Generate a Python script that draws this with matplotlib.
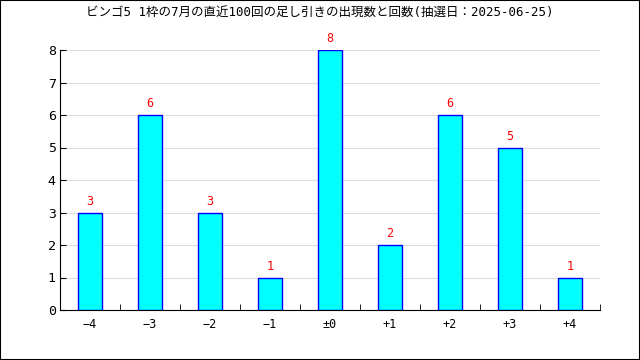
import matplotlib
matplotlib.use("Agg")
import matplotlib.pyplot as plt
from matplotlib.patches import Rectangle
import numpy as np

plt.rcParams['font.family'] = ['DejaVu Sans Mono', 'Noto Sans CJK JP']

# data
labels = ["−4", "−3", "−2", "−1", "±0", "+1", "+2", "+3", "+4"]
counts = [3, 6, 3, 1, 8, 2, 6, 5, 1]
title = "ビンゴ5 1枠の7月の直近100回の足し引きの出現数と回数(抽選日：2025-06-25)"

fig = plt.figure(figsize=(6.4, 3.6), dpi=100)
ax = fig.add_axes([60 / 640, 50 / 360, 540 / 640, 260 / 360])

x = np.arange(len(labels))
ax.bar(x, counts, width=0.4, color="#00ffff", edgecolor="#0000ff", linewidth=1, zorder=3)
for xi, c in zip(x, counts):
    ax.text(xi, c + 0.15, str(c), color="red", ha="center", va="bottom", fontsize=8.5,
            clip_on=False)

ax.set_xlim(-0.5, len(labels) - 0.5)
ax.set_ylim(0, 8)
ax.set_yticks(range(0, 9))
ax.set_xticks(x)
ax.set_xticklabels(labels, fontsize=8.5)
ax.set_xticks(np.arange(0.5, len(labels), 1), minor=True)
ax.tick_params(axis="x", which="major", length=0, pad=6)
ax.tick_params(axis="x", which="minor", direction="in", length=4)
ax.tick_params(axis="y", direction="in", length=4, labelsize=9.5, pad=3)
ax.grid(axis="y", color="#dddddd", linewidth=0.8, zorder=0)
for s in ["top", "right"]:
    ax.spines[s].set_visible(False)

fig.text(0.5, 1 - 12 / 360, title, ha="center", va="center", fontsize=9)
fig.patches.append(Rectangle((0, 0), 1, 1, transform=fig.transFigure, fill=False,
                             edgecolor="black", linewidth=1.5))

fig.savefig("out.png", dpi=100)
